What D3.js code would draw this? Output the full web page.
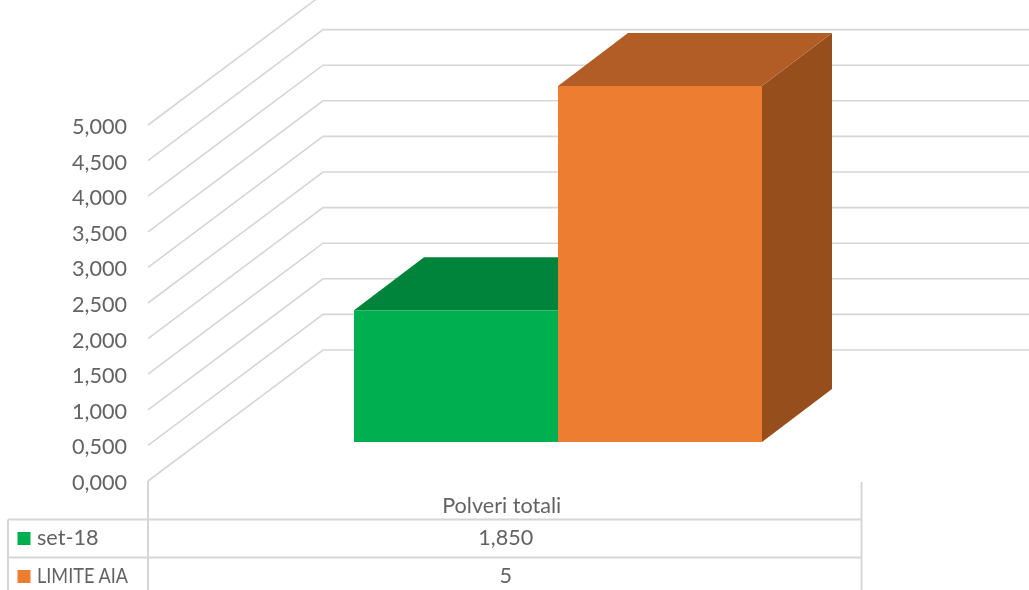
<!DOCTYPE html>
<html><head><meta charset="utf-8">
<script src="https://cdnjs.cloudflare.com/ajax/libs/d3/7.8.5/d3.min.js"></script>
<style>html,body{margin:0;padding:0;background:#fff;overflow:hidden}svg{display:block;filter:blur(0.35px)}text{font-family:Lato,"Open Sans",sans-serif;fill:#636363;font-size:21.6px}</style>
</head><body><script>
const seriesNames = ["set-18", "LIMITE AIA"];
const seriesValues = [1.85, 5];
const valueLabels = ["1,850", "5"];
const category = "Polveri totali";
const tickValues = [0, 0.5, 1, 1.5, 2, 2.5, 3, 3.5, 4, 4.5, 5];
const tickLabels = ["0,000", "0,500", "1,000", "1,500", "2,000", "2,500", "3,000", "3,500", "4,000", "4,500", "5,000"];
const faceColors = ["#00B050", "#ED7D31"];
const topColors = ["#00843C", "#B25D25"];
const sideColors = ["#00642D", "#964F1C"];

const W = 1029, H = 590;
const svg = d3.select("body").append("svg").attr("width", W).attr("height", H);
const grid = "#D6D6D6";

const wallY = d3.scaleLinear().domain([0, 5]).range([481, 125]);
const wallX0 = 148, wallX1 = 323, wallDy = -131, wallRight = 1040;
const barH = d3.scaleLinear().domain([0, 5]).range([0, 356]);
const barX = d3.scaleBand().domain(seriesNames).range([354, 762]);
const barBase = 442, depthX = 70, depthY = -53;

svg.append("g").selectAll("polyline").data(tickValues).join("polyline")
  .attr("fill", "none").attr("stroke", grid).attr("stroke-width", 1.6)
  .attr("points", d => {
    const y = wallY(d);
    return [[wallX0, y], [wallX1, y + wallDy], [wallRight, y + wallDy]].join(" ");
  });

svg.append("g").selectAll("text").data(tickValues).join("text")
  .attr("x", 127).attr("y", d => wallY(d) + 9).attr("text-anchor", "end")
  .text((d, i) => tickLabels[i]);

const bars = svg.append("g").selectAll("g").data(seriesNames).join("g");
bars.each(function (name, i) {
  const g = d3.select(this), x0 = barX(name), x1 = x0 + barX.bandwidth();
  const top = barBase - barH(seriesValues[i]);
  const pts = a => a.join(" ");
  g.append("polygon").attr("fill", sideColors[i])
    .attr("points", pts([[x1, top], [x1 + depthX, top + depthY], [x1 + depthX, barBase + depthY], [x1, barBase]]));
  g.append("polygon").attr("fill", topColors[i])
    .attr("points", pts([[x0, top], [x0 + depthX, top + depthY], [x1 + depthX, top + depthY], [x1, top]]));
  g.append("rect").attr("x", x0).attr("y", top).attr("width", x1 - x0).attr("height", barBase - top).attr("fill", faceColors[i]);
});

const t = svg.append("g").attr("stroke", grid).attr("stroke-width", 2);
[[148, 481, 148, H], [861.5, 482, 861.5, H], [8, 519.5, 8, H], [8, 519.5, 861.5, 519.5], [8, 557.5, 861.5, 557.5]]
  .forEach(l => t.append("line").attr("x1", l[0]).attr("y1", l[1]).attr("x2", l[2]).attr("y2", l[3]));

const midX = (148 + 861.5) / 2;
svg.append("text").attr("x", midX - 3).attr("y", 513).attr("text-anchor", "middle").text(category);
const rowY = d3.scaleBand().domain(seriesNames).range([519.5, 595.5]);
seriesNames.forEach((s, i) => {
  const c = rowY(s) + rowY.bandwidth() / 2;
  svg.append("rect").attr("x", 17.5).attr("y", c - 6.5).attr("width", 13).attr("height", 13).attr("fill", faceColors[i]);
  const label = svg.append("text").attr("x", 37).attr("y", c + 6).text(s);
  if (i === 1) label.attr("textLength", 91).attr("lengthAdjust", "spacingAndGlyphs");
  svg.append("text").attr("x", midX + 1).attr("y", c + 6).attr("text-anchor", "middle").text(valueLabels[i]);
});
</script></body></html>
